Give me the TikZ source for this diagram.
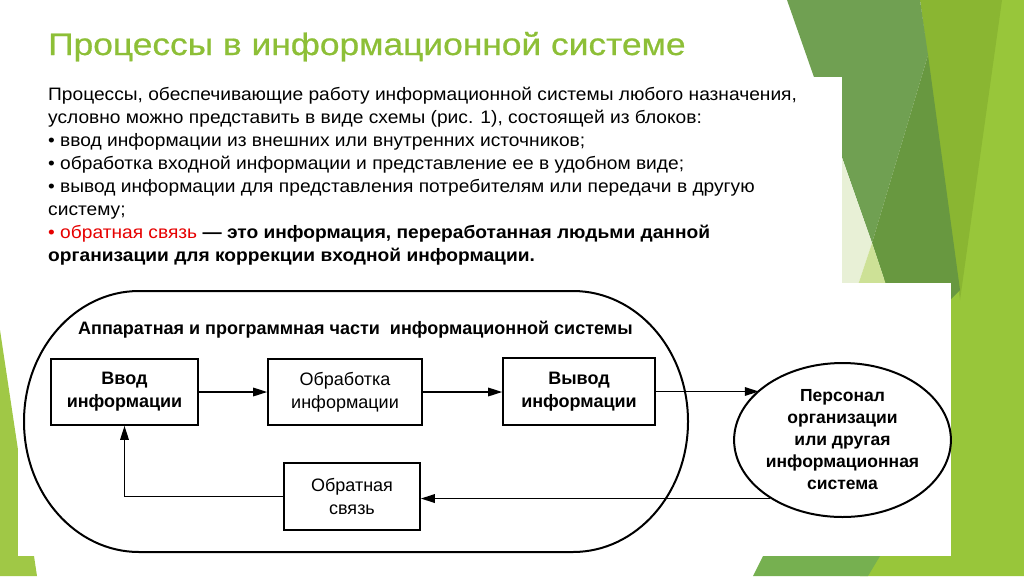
\documentclass[tikz,border=0pt]{standalone}
\usepackage{fontspec}
\setmainfont{Liberation Sans}
\newfontfamily\ttlfam[FakeBold=0.7]{Liberation Sans}
\usetikzlibrary{shapes.geometric,arrows.meta}
\definecolor{ttlgreen}{RGB}{141,191,55}
\definecolor{gbright}{RGB}{152,198,58}
\definecolor{gmid}{RGB}{138,182,50}
\definecolor{gdarkA}{RGB}{112,160,82}
\definecolor{gdarkB}{RGB}{104,152,64}
\definecolor{gpale}{RGB}{232,240,214}
\definecolor{glight}{RGB}{205,225,150}
\definecolor{gbottom}{RGB}{118,176,80}
\definecolor{gleft}{RGB}{160,200,70}
\definecolor{redtxt}{RGB}{230,0,0}
\newcommand\ttlfont{\ttlfam\fontsize{31}{36}\selectfont}
\newcommand\bodyfont{\fontsize{18}{23}\selectfont}
\newcommand\diagfont{\fontsize{18}{23}\selectfont}
\newcommand\bx[1]{\scalebox{1.065}[1]{#1}}
\begin{document}
\begin{tikzpicture}[x=1pt,y=-1pt,
  blk/.style={draw, line width=1.6pt, inner sep=0pt, align=center, font=\diagfont},
  arr/.style={line width=1.6pt, -{Triangle[length=14pt,width=8.5pt]}},
  ln/.style={anchor=base west, inner sep=0pt, font=\bodyfont},
  ]
\useasboundingbox (0,0) rectangle (1024,576);
% background facets
\fill[gbright] (940,0) -- (1024,0) -- (1024,576) -- (860,576) -- (880,300) -- cycle;
\fill[gmid] (920,0) -- (1002,0) -- (960,300) -- cycle;
\fill[gdarkA] (787,0) -- (920,0) -- (928,55) -- (872,243) -- cycle;
\fill[gdarkB] (928,55) -- (960,290) -- (950,300) -- (891,300) -- (872,243) -- cycle;
\fill[gpale] (832,130) -- (872,243) -- (853,300) -- (820,300) -- cycle;
\fill[glight] (872,243) -- (891,300) -- (853,300) -- cycle;
\fill[gbottom] (753,576) -- (773,536) -- (892,536) -- (868,576) -- cycle;
\fill[gleft] (0,330) -- (37,576) -- (0,576) -- cycle;
\fill[white] (44,77) rectangle (842,283);
\fill[white] (18,283) rectangle (951,556);
% title and text
\node[anchor=base west, inner sep=0pt, font=\ttlfont, text=ttlgreen] (title) at (48,55) {\scalebox{1.14}[1]{Процессы в информационной системе}};
\node[ln] (l1) at (48,100) {\bx{Процессы, обеспечивающие работу информационной системы любого назначения,}};
\node[ln] (l2) at (48,123) {\bx{условно можно представить в виде схемы (рис. 1), состоящей из блоков:}};
\node[ln] (l3) at (48,146) {\bx{• ввод информации из внешних или внутренних источников;}};
\node[ln] (l4) at (48,169) {\bx{• обработка входной информации и представление ее в удобном виде;}};
\node[ln] (l5) at (48,192) {\bx{• вывод информации для представления потребителям или передачи в другую}};
\node[ln] (l6) at (48,215) {\bx{систему;}};
\node[ln] (l7) at (48,238) {\bx{\textcolor{redtxt}{• обратная связь} \textbf{— это информация, переработанная людьми данной}}};
\node[ln] (l8) at (48,261) {\bx{\textbf{организации для коррекции входной информации.}}};
% diagram
\draw[line width=2pt] (139,291) -- (573,291)
  .. controls (636.5,291) and (688,349.4) .. (688,421.5)
  .. controls (688,493.6) and (636.5,552) .. (573,552)
  -- (139,552)
  .. controls (75.5,552) and (24,493.6) .. (24,421.5)
  .. controls (24,349.4) and (75.5,291) .. (139,291) -- cycle;
\node[anchor=base west, inner sep=0pt, font=\diagfont\bfseries] (lbl) at (78,334) {Аппаратная и программная части\ \ информационной системы};
\node[blk, minimum width=147pt, minimum height=66pt, font=\diagfont\bfseries] (b1) at (124.5,392) {Ввод\\информации};
\node[blk, minimum width=154pt, minimum height=66pt] (b2) at (345,392) {Обработка\\информации};
\node[blk, minimum width=152pt, minimum height=67pt, font=\diagfont\bfseries] (b3) at (579,391.5) {Вывод\\информации};
\node[blk, minimum width=136pt, minimum height=67pt] (fb) at (352,496.5) {Обратная\\связь};
\node[draw, ellipse, line width=2pt, minimum width=205pt, minimum height=154pt, inner sep=0pt, align=center,
  font=\fontsize{17.5}{22}\selectfont\bfseries] (ell) at (842.5,440) {Персонал\\организации\\или другая\\информационная\\система};
\draw[arr] (b1.east) -- (b1.east -| b2.west);
\draw[arr] (b2.east) -- (b2.east -| b3.west);
\draw[arr] (b3.east) -- (b3.east -| ell.149);
\draw[arr] (ell.219) -- (ell.219 -| fb.east);
\draw[arr] (fb.west) -| (b1.south);
\end{tikzpicture}
\end{document}
